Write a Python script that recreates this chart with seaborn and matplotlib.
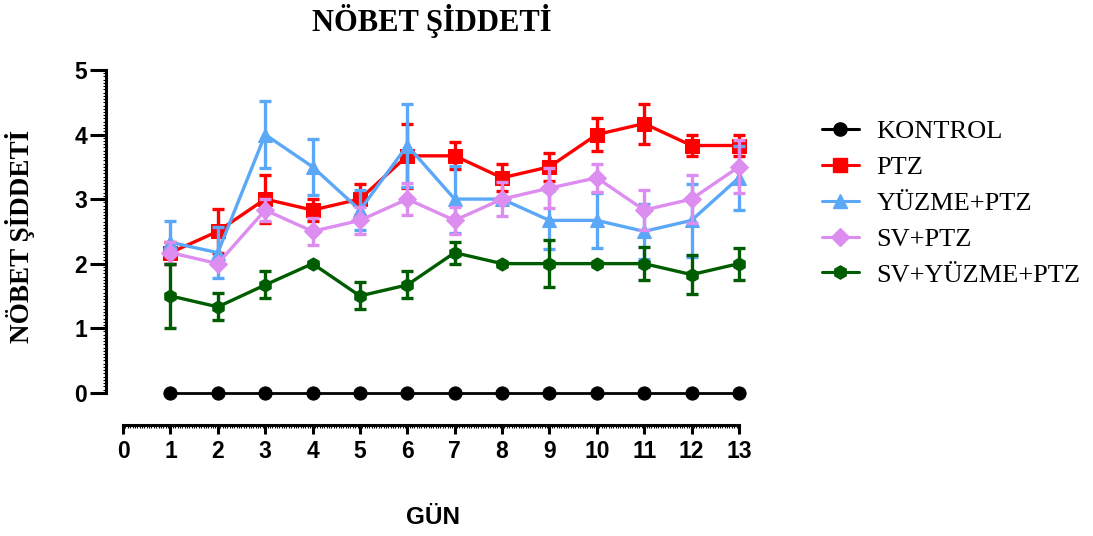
import matplotlib
matplotlib.use("Agg")
import matplotlib.pyplot as plt
from matplotlib.lines import Line2D
from matplotlib.ticker import FixedLocator
import seaborn as sns
import pandas as pd
import numpy as np

days = list(range(1, 14))
groups = ["KONTROL", "PTZ", "YÜZME+PTZ", "SV+PTZ", "SV+YÜZME+PTZ"]

kontrol_mean = [0]*13
kontrol_sem = [0]*13
ptz_mean = [2.17, 2.5, 3.0, 2.83, 3.0, 3.67, 3.67, 3.33, 3.5, 4.0, 4.17, 3.83, 3.83]
ptz_sem = [0.17, 0.34, 0.37, 0.17, 0.24, 0.5, 0.21, 0.21, 0.22, 0.26, 0.31, 0.17, 0.17]
yuzme_mean = [2.33, 2.17, 4.0, 3.5, 2.83, 3.83, 3.0, 3.0, 2.67, 2.67, 2.5, 2.67, 3.33]
yuzme_sem = [0.33, 0.4, 0.52, 0.43, 0.31, 0.65, 0.52, 0.0, 0.45, 0.42, 0.43, 0.56, 0.5]
sv_mean = [2.17, 2.0, 2.83, 2.5, 2.67, 3.0, 2.67, 3.0, 3.17, 3.33, 2.83, 3.0, 3.5]
sv_sem = [0.17, 0.0, 0.17, 0.21, 0.21, 0.25, 0.21, 0.26, 0.31, 0.22, 0.31, 0.37, 0.41]
svy_mean = [1.5, 1.33, 1.67, 2.0, 1.5, 1.67, 2.17, 2.0, 2.0, 2.0, 2.0, 1.83, 2.0]
svy_sem = [0.5, 0.21, 0.21, 0.0, 0.21, 0.21, 0.17, 0.0, 0.36, 0.0, 0.26, 0.3, 0.25]

means = [kontrol_mean, ptz_mean, yuzme_mean, sv_mean, svy_mean]
sems = [kontrol_sem, ptz_sem, yuzme_sem, sv_sem, svy_sem]
colors = ["#000000", "#FF0000", "#5BA8F8", "#DD8CF0", "#005C00"]
markers = ["o", "s", "^", "D", "h"]
msizes = [9.5, 10, 10, 9, 9.5]
lws = [2.0, 2.4, 2.4, 2.4, 2.4]

rows = []
for g, m in zip(groups, means):
    for d, v in zip(days, m):
        rows.append({"day": d, "value": v, "group": g})
df = pd.DataFrame(rows)

sns.set_style("white")
plt.rcParams["text.color"] = "black"
plt.rcParams["xtick.color"] = "black"
plt.rcParams["ytick.color"] = "black"
plt.rcParams["axes.labelcolor"] = "black"

fig = plt.figure(figsize=(10.93, 5.36), dpi=100)
W, H = 1093, 536
ax = fig.add_axes([106/W, (H-425)/H, 640/W, 355/H])

for i, (g, c, mk, ms, lw) in enumerate(zip(groups, colors, markers, msizes, lws)):
    sub = df[df.group == g]
    z = 3 + i*2
    ax.errorbar(days, means[i], yerr=sems[i], fmt="none", ecolor=c,
                elinewidth=2.4, capsize=4.5, capthick=2.4, zorder=z, clip_on=False)
    sns.lineplot(data=sub, x="day", y="value", color=c, marker=mk,
                 markersize=ms, markeredgecolor=c, linewidth=lw, ax=ax,
                 zorder=z+1, legend=False, errorbar=None, clip_on=False)

ax.set_xlim(-0.36, 13.15)
ax.set_ylim(-0.5, 5.0)
for s in ["top", "right"]:
    ax.spines[s].set_visible(False)
ax.spines["left"].set_bounds(0, 5)
ax.spines["bottom"].set_bounds(0, 13)
for s in ["left", "bottom"]:
    ax.spines[s].set_linewidth(2.2)
    ax.spines[s].set_color("black")

ax.set_xticks(range(0, 14))
ax.set_yticks(range(0, 6))
ax.xaxis.set_minor_locator(FixedLocator(np.arange(0, 13.001, 0.05)))
ax.yaxis.set_minor_locator(FixedLocator(np.arange(0, 5.001, 0.05)))
ax.tick_params(axis="x", which="major", direction="out", length=6.5, width=2.2,
               color="black", pad=4, bottom=True)
ax.tick_params(axis="y", which="major", direction="out", length=11.5, width=2.2,
               color="black", pad=2, left=True)
ax.tick_params(axis="both", which="minor", direction="out", length=2.5, width=0.8,
               color="black", bottom=True, left=True)

sans = ["Liberation Sans", "DejaVu Sans"]
serif = ["Liberation Serif", "DejaVu Serif"]
tick_font = dict(family=sans, weight="bold", size=16.5)
ax.set_xticklabels([str(i) for i in range(0, 14)], fontdict=tick_font)
ax.set_yticklabels([str(i) for i in range(0, 6)], fontdict=tick_font)

ax.set_xlabel("GÜN", family=sans, weight="bold", size=17.5)
ax.xaxis.set_label_coords((433-106)/640, -(506-425)/355)
ax.set_ylabel("NÖBET ŞİDDETİ", family=serif, weight="bold", size=19.5)
ax.yaxis.set_label_coords((35-106)/640, (425-236)/355)

fig.text(432/W, 1-21/H, "NÖBET ŞİDDETİ", family=serif,
         weight="bold", size=22, ha="center", va="center")

handles = [Line2D([0], [0], color=c, marker=mk, markersize=ms, linewidth=2.2,
                  markeredgecolor=c) for c, mk, ms in zip(colors, markers, msizes)]
fig.legend(handles, groups, loc="upper left", bbox_to_anchor=(798/W, 1-96/H),
           frameon=False, prop=dict(family=serif, size=19),
           handlelength=1.4, handletextpad=0.68, labelspacing=0.47)

fig.savefig("out.png", dpi=100)
